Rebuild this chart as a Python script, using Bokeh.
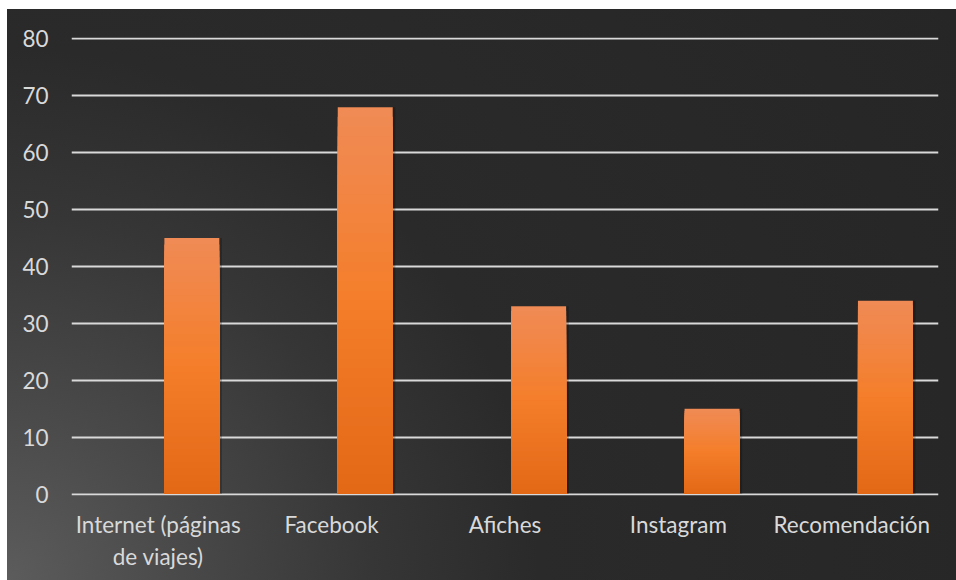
from bokeh.plotting import figure
from bokeh.models import FactorRange, Range1d, FixedTicker, InlineStyleSheet, ColumnDataSource
from bokeh.transform import dodge
from bokeh.embed import file_html
from bokeh.resources import INLINE

categories = ["Internet (páginas\nde viajes)", "Facebook", "Afiches", "Instagram", "Recomendación"]
values = [45, 68, 33, 15, 34]
y_ticks = [0, 10, 20, 30, 40, 50, 60, 70, 80]

FONT = "Lato"
TXT = "#d9d9d9"

p = figure(
    x_range=FactorRange(factors=categories, range_padding=0),
    y_range=Range1d(-0.25, 80.25),
    width=949, height=571,
    output_backend="svg", toolbar_location=None,
    min_border_left=64, min_border_right=18, min_border_top=28, min_border_bottom=85,
)
p.margin = (9, 0, 0, 7)
p.border_fill_color = None
p.background_fill_color = None
p.outline_line_color = None
p.stylesheets = [InlineStyleSheet(css=":host { background: radial-gradient(circle at 0% 100%, #5c5c5c 0%, #4a4a4a 15%, #363636 33%, #2a2a2a 48%, #262626 100%); }")]

def lerp(c1, c2, t):
    a = [int(c1[i:i+2], 16) for i in (1, 3, 5)]
    b = [int(c2[i:i+2], 16) for i in (1, 3, 5)]
    return "#%02x%02x%02x" % tuple(round(a[k] + (b[k] - a[k]) * t) for k in range(3))

c_bot, c_mid, c_top = "#e36816", "#f47e2a", "#f08b56"
n = 40

# soft shadow
shadow = ColumnDataSource(dict(x=categories, top=values))
p.vbar(x=dodge("x", 0.203, range=p.x_range), top="top", bottom=0, width=0.33,
       source=shadow, fill_color="black", fill_alpha=0.22, line_color=None)

# gradient: nested bars from full height down, each painted over the previous
xs, tops, cols = [], [], []
for k in range(n):
    i = n - 1 - k
    t = (i + 0.5) / n
    col = lerp(c_bot, c_mid, t / 0.5) if t < 0.5 else lerp(c_mid, c_top, (t - 0.5) / 0.5)
    for c, v in zip(categories, values):
        xs.append(c)
        tops.append(v * (i + 1) / n)
        cols.append(col)

src = ColumnDataSource(dict(x=xs, top=tops, color=cols))
p.vbar(x=dodge("x", 0.194, range=p.x_range), top="top", bottom=0, width=0.317,
       source=src, fill_color="color", line_color=None)

p.yaxis.ticker = FixedTicker(ticks=y_ticks)
p.ygrid.ticker = FixedTicker(ticks=y_ticks)
p.xgrid.grid_line_color = None
p.ygrid.grid_line_color = "#d9d9d9"
p.ygrid.grid_line_width = 2

for ax in (p.xaxis, p.yaxis):
    ax.axis_line_color = None
    ax.major_tick_line_color = None
    ax.minor_tick_line_color = None
    ax.major_tick_out = 0
    ax.major_tick_in = 0
    ax.major_label_text_font = FONT
    ax.major_label_text_font_size = "22.5px"
    ax.major_label_text_color = TXT

p.yaxis.major_label_standoff = 23
p.xaxis.major_label_standoff = 15

open("out.html", "w").write(file_html(p, INLINE))
